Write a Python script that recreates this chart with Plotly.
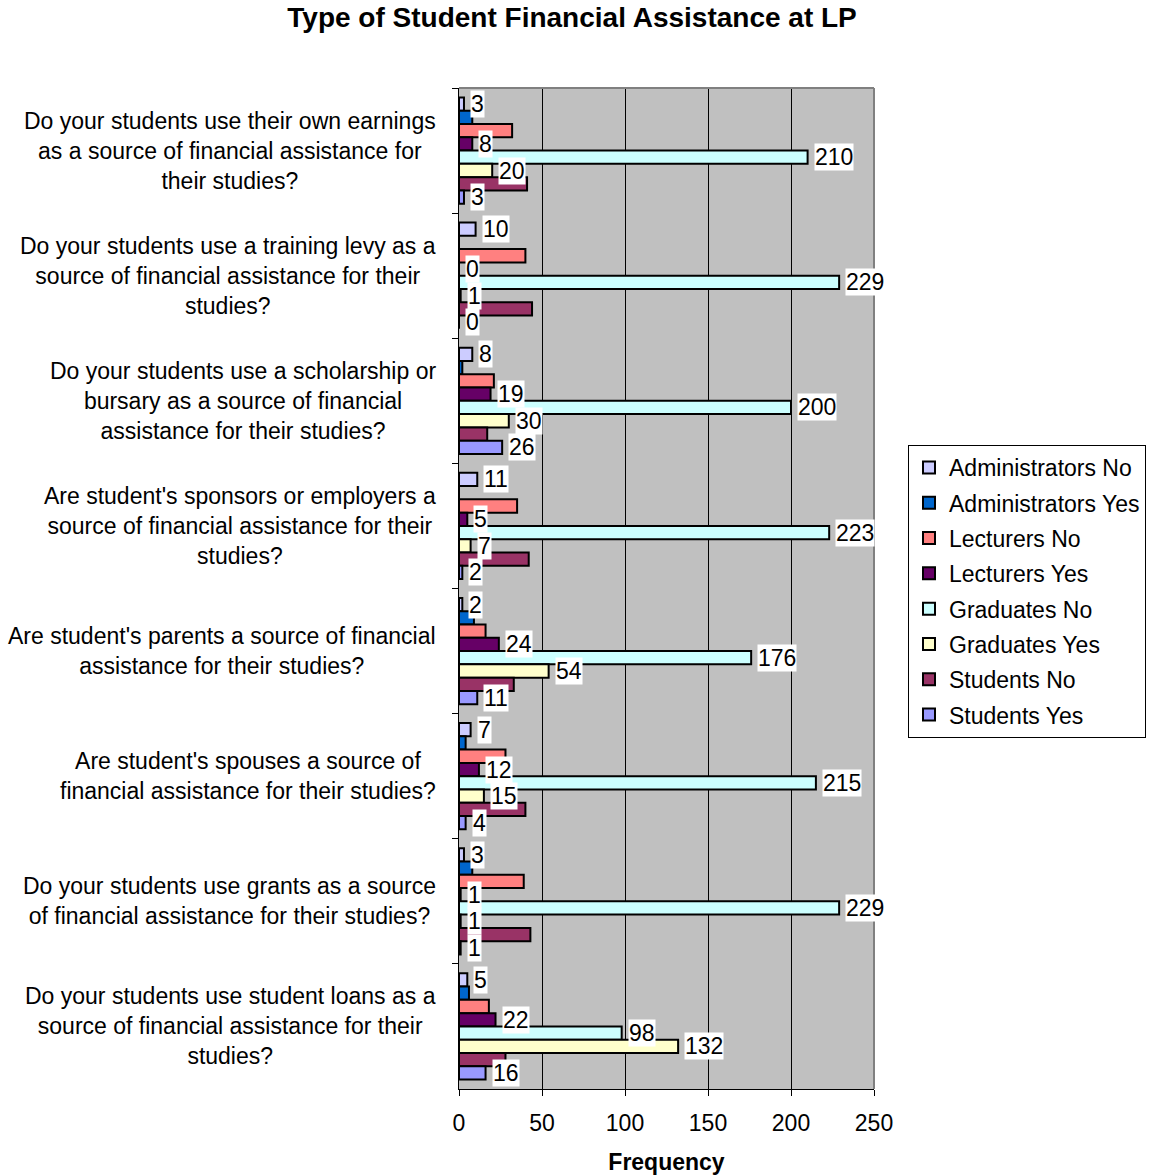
import plotly.graph_objects as go

# Survey questions (wrapped for display) from top to bottom
questions = [
    "Do your students use their own earnings<br>as a source of financial assistance for<br>their studies?",
    "Do your students use a training levy as a<br>source of financial assistance for their<br>studies?",
    "Do your students use a scholarship or<br>bursary as a source of financial<br>assistance for their studies?",
    "Are student's sponsors or employers a<br>source of financial assistance for their<br>studies?",
    "Are student's parents a source of financial<br>assistance for their studies?",
    "Are student's spouses a source of<br>financial assistance for their studies?",
    "Do your students use grants as a source<br>of financial assistance for their studies?",
    "Do your students use student loans as a<br>source of financial assistance for their<br>studies?",
]

series_names = [
    "Administrators No", "Administrators Yes", "Lecturers No", "Lecturers Yes",
    "Graduates No", "Graduates Yes", "Students No", "Students Yes",
]

administrators_no = [3, 10, 8, 11, 2, 7, 3, 5]
administrators_yes = [8, 0, 2, 0, 9, 4, 8, 6]
lecturers_no = [32, 40, 21, 35, 16, 28, 39, 18]
lecturers_yes = [8, 0, 19, 5, 24, 12, 1, 22]
graduates_no = [210, 229, 200, 223, 176, 215, 229, 98]
graduates_yes = [20, 1, 30, 7, 54, 15, 1, 132]
students_no = [41, 44, 17, 42, 33, 40, 43, 28]
students_yes = [3, 0, 26, 2, 11, 4, 1, 16]

series_values = [
    administrators_no, administrators_yes, lecturers_no, lecturers_yes,
    graduates_no, graduates_yes, students_no, students_yes,
]
series_colors = [
    "#CCCCFF", "#0066CC", "#FF8080", "#660066",
    "#CCFFFF", "#FFFFCC", "#993366", "#9999FF",
]
# series whose values are printed next to the bars
labelled_series = [0, 3, 4, 5, 7]

FONT = "Liberation Sans, Arial, sans-serif"
BAR_GAP = 0.15
W, H = 1151, 1175

fig = go.Figure()
for name, vals, color in zip(series_names, series_values, series_colors):
    fig.add_trace(go.Bar(
        y=questions, x=vals, name=name, orientation="h",
        marker=dict(color=color, line=dict(color="black", width=2)),
        legendgroup=name,
    ))

# value labels in white boxes, centred on each bar of the group
n_series = len(series_names)
bar_w = (1 - BAR_GAP) / n_series
annotations = []
for s in labelled_series:
    offset = -(1 - BAR_GAP) / 2 + (s + 0.5) * bar_w
    for ci, v in enumerate(series_values[s]):
        annotations.append(dict(
            x=v, y=ci + offset, xref="x", yref="y", text=str(v),
            showarrow=False, xanchor="left", yanchor="middle", xshift=6,
            bgcolor="white", borderpad=0,
            font=dict(family=FONT, size=23, color="black"),
        ))

# question labels, lines centred within each block
for ci, q in enumerate(questions):
    annotations.append(dict(
        x=0, y=ci, xref="paper", yref="y", text=q, showarrow=False,
        xanchor="right", yanchor="middle", align="center", xshift=-21,
        font=dict(family=FONT, size=23, color="black"),
    ))

# grey frame on the top and right of the plot area
shapes = [
    dict(type="line", xref="paper", yref="paper", x0=0, x1=1, y0=1, y1=1,
         line=dict(color="#808080", width=2), layer="above"),
    dict(type="line", xref="paper", yref="paper", x0=1, x1=1, y0=0, y1=1,
         line=dict(color="#808080", width=2), layer="above"),
]

fig.update_layout(
    width=W, height=H,
    margin=dict(l=459, r=277, t=88, b=86, autoexpand=False),
    paper_bgcolor="white", plot_bgcolor="#C0C0C0",
    barmode="group", bargap=BAR_GAP, bargroupgap=0,
    font=dict(family=FONT, size=23, color="black"),
    title=dict(
        text="<b>Type of Student Financial Assistance at LP</b>",
        x=0.497, xanchor="center", y=0.985, yanchor="middle",
        font=dict(family=FONT, size=28, color="black"),
    ),
    xaxis=dict(
        range=[0, 250], dtick=50, tick0=0,
        showgrid=True, gridcolor="black", gridwidth=1, zeroline=False,
        showline=True, linecolor="black", linewidth=1,
        ticks="outside", ticklen=6, tickcolor="black",
        ticklabelstandoff=7,
        tickfont=dict(family=FONT, size=23),
        title=dict(text="<b>Frequency</b>", standoff=20,
                   font=dict(family=FONT, size=23)),
    ),
    yaxis=dict(
        type="category", autorange="reversed",
        showticklabels=False, showgrid=False, zeroline=False,
        showline=True, linecolor="black", linewidth=1,
        ticks="outside", ticklen=6, tickcolor="black", tickson="boundaries",
    ),
    legend=dict(
        xref="container", yref="container",
        x=908 / W, xanchor="left",
        y=1 - 445 / H, yanchor="top",
        bgcolor="white", bordercolor="black", borderwidth=1,
        font=dict(family=FONT, size=23), traceorder="grouped",
        tracegroupgap=2.4, itemclick=False,
    ),
    annotations=annotations,
    shapes=shapes,
    showlegend=True,
)

fig.write_html("out.html")
